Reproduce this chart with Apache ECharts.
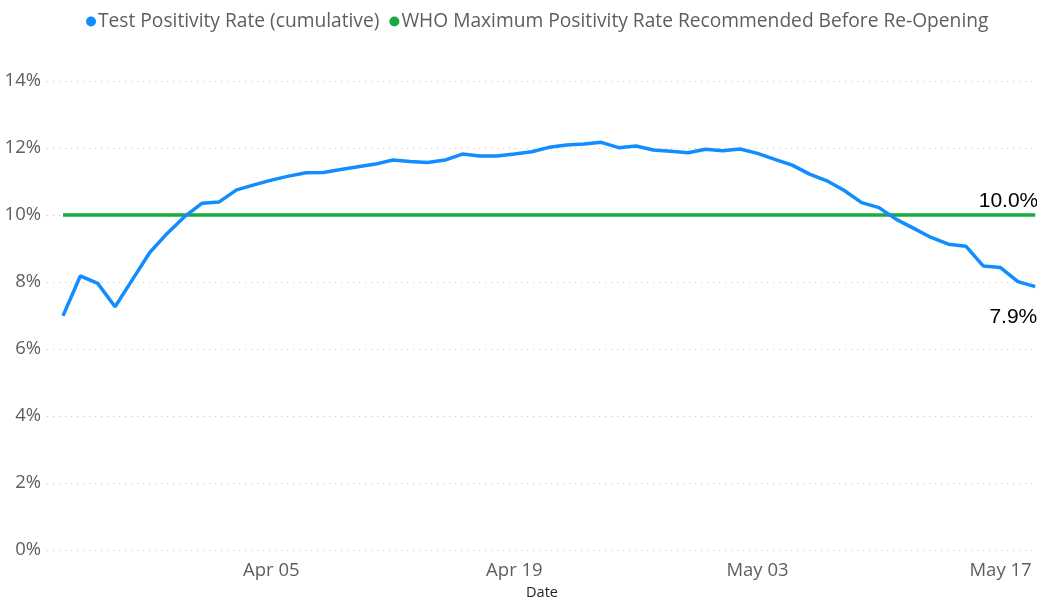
<!DOCTYPE html>
<html>
<head>
<meta charset="utf-8">
<script src="https://cdn.jsdelivr.net/npm/echarts@6/dist/echarts.min.js"></script>
<style>html,body{margin:0;padding:0;background:#fff}#c{width:1037px;height:600px}</style>
</head>
<body>
<div id="c"></div>
<script>
// Dates: Mar 24 .. May 19 (daily)
const startDate = [2020, 2, 24];
const tickLabels = ['Apr 05', 'Apr 19', 'May 03', 'May 17'];
const tickIndices = [12, 26, 40, 54];
const yTicks = [0, 2, 4, 6, 8, 10, 12, 14];
const positivity = [
  6.99, 8.18, 7.96, 7.26, 8.07, 8.88, 9.45, 9.95, 10.35, 10.39,
  10.75, 10.90, 11.04, 11.16, 11.26, 11.27, 11.36, 11.44, 11.52, 11.64,
  11.60, 11.57, 11.64, 11.82, 11.76, 11.76, 11.82, 11.89, 12.02, 12.09,
  12.12, 12.17, 12.01, 12.06, 11.94, 11.90, 11.86, 11.96, 11.92, 11.97,
  11.84, 11.66, 11.49, 11.22, 11.02, 10.73, 10.37, 10.22, 9.87, 9.60,
  9.33, 9.13, 9.07, 8.48, 8.43, 8.01, 7.86
];
const whoMax = 10;

const months = ['Jan','Feb','Mar','Apr','May','Jun','Jul','Aug','Sep','Oct','Nov','Dec'];
function labelFor(i) {
  const d = new Date(startDate[0], startDate[1], startDate[2] + i);
  return months[d.getMonth()] + ' ' + String(d.getDate()).padStart(2, '0');
}
const blueData = positivity.map((v, i) => [i, v]);
const greenData = positivity.map((v, i) => [i, whoMax]);
const last = positivity.length - 1;

const endLabelStyle = { color: '#000', fontSize: 21, fontFamily: 'Liberation Sans' };

const chart = echarts.init(document.getElementById('c'));
chart.setOption({
  animation: false,
  backgroundColor: '#fff',
  textStyle: { fontFamily: 'Open Sans, sans-serif' },
  legend: {
    top: 7, left: 81,
    icon: 'circle', itemWidth: 10, itemHeight: 10, itemGap: 10,
    textStyle: { color: '#605E5C', fontSize: 19.2, fontFamily: 'Open Sans', padding: [0, 0, 0, -3] },
    data: ['Test Positivity Rate (cumulative)', 'WHO Maximum Positivity Rate Recommended Before Re-Opening']
  },
  grid: { left: 47, right: 0, top: 81, bottom: 50, outerBoundsMode: 'none' },
  xAxis: {
    type: 'value', min: -0.92, max: 56.1,
    name: 'Date', nameLocation: 'middle', nameGap: 35,
    nameTextStyle: { color: '#252423', fontSize: 14.5 },
    axisLine: { show: false }, axisTick: { show: false },
    splitLine: { show: false },
    axisLabel: {
      customValues: tickIndices,
      formatter: v => labelFor(v),
      color: '#605E5C', fontSize: 18.5, margin: 11
    }
  },
  yAxis: {
    type: 'value', min: yTicks[0], max: yTicks[yTicks.length - 1], interval: 2,
    axisLine: { show: false }, axisTick: { show: false },
    axisLabel: { formatter: v => v + '%', color: '#605E5C', fontSize: 18.5, margin: 6 },
    splitLine: { lineStyle: { type: [1, 5], color: '#C8C6C4', width: 1 } }
  },
  series: [
    {
      name: 'Test Positivity Rate (cumulative)', type: 'line', data: blueData,
      showSymbol: false, symbol: 'circle', color: '#118DFF',
      lineStyle: { width: 3.5, color: '#118DFF' },
      markPoint: {
        symbol: 'circle', symbolSize: 0, silent: true,
        data: [{ coord: blueData[last], value: positivity[last] }],
        label: Object.assign({
          show: true, position: 'bottom', align: 'right', distance: 20, offset: [2, 0],
          formatter: p => p.value.toFixed(1) + '%'
        }, endLabelStyle)
      },
      z: 3
    },
    {
      name: 'WHO Maximum Positivity Rate Recommended Before Re-Opening', type: 'line', data: greenData,
      showSymbol: false, symbol: 'circle', color: '#1AAB40',
      lineStyle: { width: 3.5, color: '#1AAB40' },
      markPoint: {
        symbol: 'circle', symbolSize: 0, silent: true,
        data: [{ coord: greenData[last], value: whoMax }],
        label: Object.assign({
          show: true, position: 'top', align: 'right', distance: 3, offset: [3, 0],
          formatter: p => p.value.toFixed(1) + '%'
        }, endLabelStyle)
      },
      z: 2
    }
  ]
});
</script>
</body>
</html>
